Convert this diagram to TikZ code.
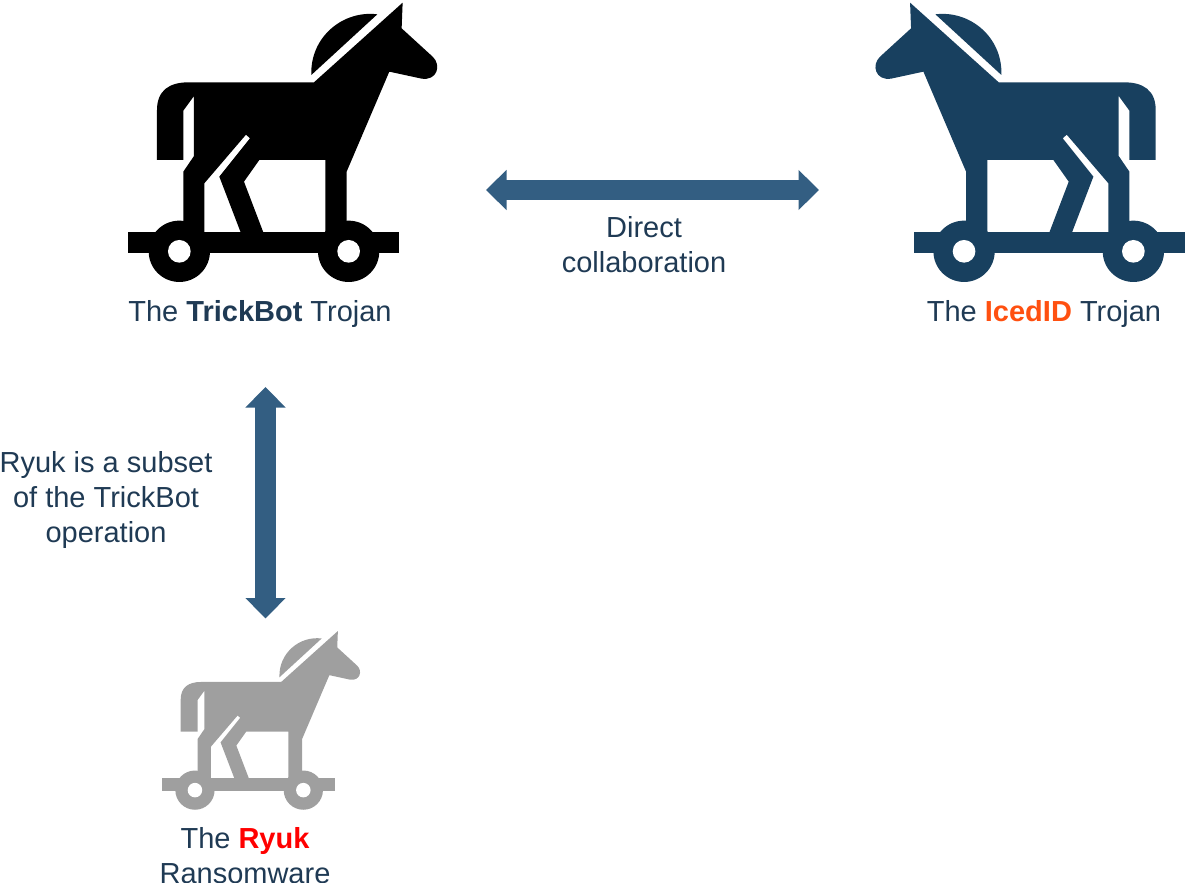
\documentclass[tikz,border=0pt]{standalone}
\usepackage{xcolor}
\usepackage{fontspec}
\setmainfont{Liberation Sans}
\usetikzlibrary{arrows.meta}
\definecolor{navytext}{HTML}{1F3A54}
\definecolor{navyhorse}{HTML}{18405F}
\definecolor{linkblue}{HTML}{335E82}
\definecolor{greyhorse}{HTML}{9F9F9F}
\definecolor{icedorange}{HTML}{FF5010}
\tikzset{
    label_text/.style = {align=center, inner sep=0pt, text=navytext, font=\fontsize{29}{35}\selectfont},
    link/.style = {draw=linkblue, line width=20.5pt, {Triangle[width=39pt,length=20.5pt]}-{Triangle[width=39pt,length=20.5pt]}},
    pics/horse/.style = {code={
        \fill[#1] (582,247) -- (848,8) -- (845,85) -- (938,170)
            .. controls (965,195) and (952,243) .. (905,236) -- (808,215) -- (680,515) -- (680,697)
            -- (616,697) -- (616,480) -- (418,480) -- (372,545) -- (430,697) -- (362,697) -- (298,530)
            -- (390,415) -- (378,404) -- (253,550) -- (253,697) -- (190,697) -- (190,515) -- (222,468)
            -- (222,288) -- (190,332) -- (190,480) -- (111,480) -- (111,330)
            .. controls (111,270) and (150,247) .. (205,247) -- cycle;
        \fill[#1] (574,225) .. controls (570,110) and (670,30) .. (772,43) -- cycle;
        \fill[#1] (23,697) rectangle (836,758);
        \fill[#1] (178,754) circle (92);
        \fill[#1] (686,754) circle (92);
        \fill[white] (178,754) circle (34);
        \fill[white] (686,754) circle (34);
    }}
}
\begin{document}
\begin{tikzpicture}[x=1pt,y=-1pt]
    \useasboundingbox (0,0) rectangle (1186,883);
    \pic (trickbot) [scale=0.3333] at (120,0) {horse=black};
    \pic (icedid) [xscale=-0.3333,yscale=0.3333] at (1192.7,0) {horse=navyhorse};
    \pic (ryuk) [scale=0.2133] at (157,629.3) {horse=greyhorse};
    \node [label_text] (trickbot_label) at (260,314) {The \textbf{TrickBot} Trojan};
    \node [label_text] (icedid_label) at (1044,314) {The \textbf{\textcolor{icedorange}{IcedID}} Trojan};
    \node [label_text] (ryuk_label) at (245,856) {The \textbf{\textcolor{red}{Ryuk}}\\Ransomware};
    \node [label_text] (direct_label) at (644,245) {Direct\\collaboration};
    \node [label_text] (subset_label) at (106,500) {Ryuk is a subset\\of the TrickBot\\operation};
    \coordinate (direct_left) at (486,190);
    \coordinate (direct_right) at (819,190);
    \coordinate (subset_top) at (265.5,387);
    \coordinate (subset_bottom) at (265.5,618.5);
    \draw [link] (direct_left) -- (direct_right);
    \draw [link] (subset_top) -- (subset_bottom);
\end{tikzpicture}
\end{document}
